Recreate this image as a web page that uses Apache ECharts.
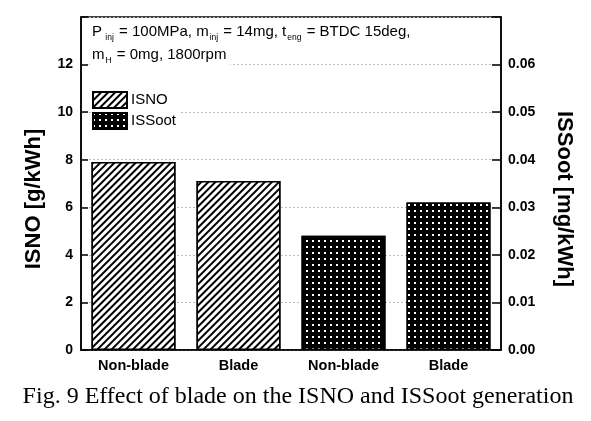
<!DOCTYPE html>
<html><head><meta charset="utf-8">
<script src="https://cdn.jsdelivr.net/npm/echarts@6/dist/echarts.min.js"></script>
<style>html,body{margin:0;padding:0;background:#fff}#c{width:591px;height:421px}</style>
</head><body><div id="c"></div>
<script>
var categories = ['Non-blade', 'Blade', 'Non-blade', 'Blade'];
var isnoValues = [7.9, 7.1, '-', '-'];
var issootValues = ['-', '-', 0.024, 0.031];
var leftTicks = [0, 2, 4, 6, 8, 10, 12];
var rightTicks = ['0.00', '0.01', '0.02', '0.03', '0.04', '0.05', '0.06'];

var chart = echarts.init(document.getElementById('c'), null, {renderer: 'canvas'});
var sans = 'Liberation Sans, Arial, sans-serif';
var hatch = {symbol: 'rect', symbolSize: 1, color: '#000', backgroundColor: '#fff',
  dashArrayX: [1, 0], dashArrayY: [1.9, 2.4], rotation: -Math.PI / 4};
var dots = {symbol: 'rect', symbolSize: 1, color: '#fff', backgroundColor: '#000',
  dashArrayX: [1.5, 3.5], dashArrayY: [1.5, 3.5], rotation: 0};
var annoRich = {
  n: {fontFamily: sans, fontSize: 15, color: '#000', lineHeight: 20},
  s: {fontFamily: sans, fontSize: 8.5, color: '#000', verticalAlign: 'bottom', lineHeight: 20, padding: [10, 1, 0, 1]}
};
chart.setOption({
  animation: false,
  backgroundColor: '#fff',
  grid: {left: 81, right: 90, top: 17, bottom: 71, show: true, borderColor: '#000', borderWidth: 1.5, backgroundColor: 'transparent'},
  legend: {
    left: 92, top: 91, orient: 'vertical', itemWidth: 34, itemHeight: 16, itemGap: 3,
    backgroundColor: '#fff', padding: [0, 4, 0, 0],
    textStyle: {fontFamily: sans, fontSize: 15, color: '#000', padding: [0, 0, 0, -1]},
    data: [{name: 'ISNO', icon: 'rect'}, {name: 'ISSoot', icon: 'rect'}]
  },
  xAxis: {
    type: 'category', data: categories,
    axisLine: {lineStyle: {color: '#000', width: 1.5}},
    axisTick: {show: false},
    axisLabel: {fontFamily: sans, fontWeight: 'bold', fontSize: 14.5, color: '#000', margin: 8}
  },
  yAxis: [{
    type: 'value', min: 0, max: 14, interval: 2, position: 'left',
    axisLine: {show: true, lineStyle: {color: '#000', width: 1.5}},
    axisTick: {show: true, inside: true, length: 7, lineStyle: {color: '#000', width: 1.5}},
    axisLabel: {fontFamily: sans, fontWeight: 'bold', fontSize: 14, color: '#000', margin: 8,
      formatter: function (v) { return leftTicks.indexOf(v) >= 0 ? String(v) : ''; }},
    splitLine: {show: true, lineStyle: {color: '#bbb', type: [2, 2], width: 1}}
  }, {
    type: 'value', min: 0, max: 0.07, interval: 0.01, position: 'right',
    axisLine: {show: true, lineStyle: {color: '#000', width: 1.5}},
    axisTick: {show: true, inside: true, length: 9, lineStyle: {color: '#000', width: 1.5}},
    axisLabel: {fontFamily: sans, fontWeight: 'bold', fontSize: 14, color: '#000', margin: 7,
      formatter: function (v) { var s = v.toFixed(2); return rightTicks.indexOf(s) >= 0 ? s : ''; }},
    splitLine: {show: false}
  }],
  series: [{
    name: 'ISNO', type: 'bar', yAxisIndex: 0, data: isnoValues, barWidth: '80%', barGap: '-100%',
    itemStyle: {color: '#fff', borderColor: '#000', borderWidth: 1.5, decal: hatch}
  }, {
    name: 'ISSoot', type: 'bar', yAxisIndex: 1, data: issootValues, barWidth: '80%', barGap: '-100%',
    itemStyle: {color: '#000', borderColor: '#000', borderWidth: 1.5, decal: dots}
  }],
  graphic: [{
    type: 'text', left: 90, top: 22, z: 100,
    style: {
      text: '{n|P}{s| inj}{n| = 100MPa, m}{s|inj}{n| = 14mg, t}{s|eng}{n| = BTDC 15deg,}',
      backgroundColor: '#fff', padding: [0, 4, 0, 2], rich: annoRich
    }
  }, {
    type: 'text', left: 90, top: 45, z: 100,
    style: {
      text: '{n|m}{s|H}{n| = 0mg, 1800rpm}',
      backgroundColor: '#fff', padding: [0, 4, 3, 2], rich: annoRich
    }
  }, {
    type: 'text', x: 34, y: 199, rotation: Math.PI / 2 ,
    style: {text: 'ISNO [g/kWh]', fontFamily: sans, fontWeight: 'bold', fontSize: 22, fill: '#000', align: 'center', verticalAlign: 'middle'}
  }, {
    type: 'text', x: 564, y: 199, rotation: -Math.PI / 2,
    style: {text: 'ISSoot [mg/kWh]', fontFamily: sans, fontWeight: 'bold', fontSize: 22, fill: '#000', align: 'center', verticalAlign: 'middle'}
  }, {
    type: 'text', x: 298, y: 397,
    style: {text: 'Fig. 9 Effect of blade on the ISNO and ISSoot generation', fontFamily: 'Liberation Serif, Times New Roman, serif', fontSize: 24, fill: '#000', align: 'center', verticalAlign: 'middle'}
  }]
});
</script></body></html>
